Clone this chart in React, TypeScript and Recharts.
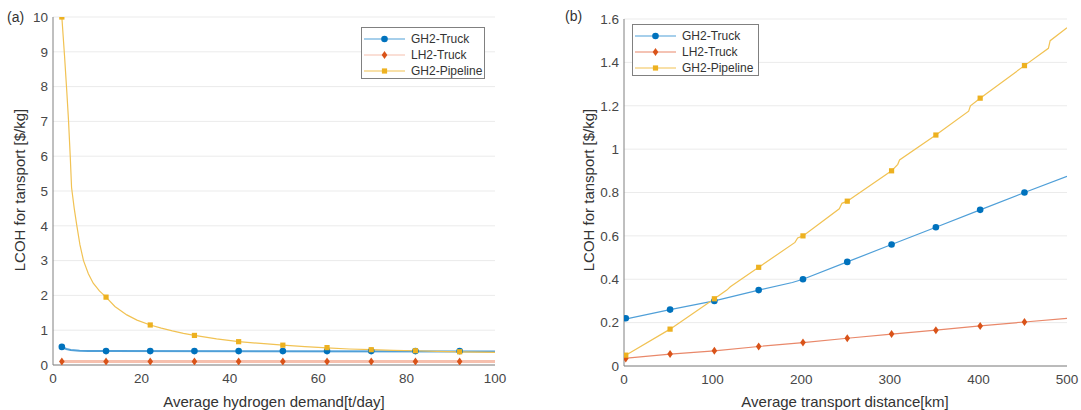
import React from "react";
import { CartesianGrid, ComposedChart, Line, Scatter, XAxis, YAxis } from "recharts";

// ---- (a) average hydrogen demand [t/day]
const demandMarkX = [2, 12, 22, 32, 42, 52, 62, 72, 82, 92];
const gh2TruckDemandMarks = [0.52, 0.4, 0.4, 0.4, 0.4, 0.4, 0.4, 0.4, 0.4, 0.4];
const lh2TruckDemandMarks = [0.1, 0.1, 0.1, 0.1, 0.1, 0.1, 0.1, 0.1, 0.1, 0.1];
const pipelineDemandMarks = [10, 1.95, 1.15, 0.85, 0.67, 0.57, 0.5, 0.44, 0.41, 0.38];

const pipelineDemandLineX = [2, 2.6, 3.1, 3.5, 3.9, 4.2, 4.8, 5.4, 6.1, 6.9, 8, 9.1, 10.5, 12, 14, 16.7, 19, 22, 24.5, 27, 29.5, 32, 37, 42, 47, 52, 57, 62, 67, 72, 77, 82, 87, 92, 100];
const pipelineDemandLineY = [10, 8.9, 7.9, 7.05, 6.0, 5.1, 4.5, 4.0, 3.45, 3.0, 2.62, 2.35, 2.13, 1.95, 1.68, 1.44, 1.29, 1.15, 1.06, 0.98, 0.91, 0.85, 0.75, 0.67, 0.62, 0.57, 0.53, 0.49, 0.46, 0.44, 0.42, 0.41, 0.39, 0.38, 0.36];
const gh2TruckDemandLineX = [2, 3, 4, 6, 8, 12, 100];
const gh2TruckDemandLineY = [0.52, 0.46, 0.43, 0.41, 0.4, 0.4, 0.39];
const lh2TruckDemandLineX = [1.6, 100];
const lh2TruckDemandLineY = [0.1, 0.1];

// ---- (b) average transport distance [km]
const distanceMarkX = [2, 52, 102, 152, 202, 252, 302, 352, 402, 452];
const gh2TruckDistanceMarks = [0.22, 0.26, 0.3, 0.35, 0.4, 0.48, 0.56, 0.64, 0.72, 0.8];
const lh2TruckDistanceMarks = [0.035, 0.055, 0.07, 0.09, 0.108, 0.128, 0.147, 0.165, 0.185, 0.203];
const pipelineDistanceMarks = [0.05, 0.17, 0.31, 0.455, 0.6, 0.76, 0.9, 1.065, 1.235, 1.385];

const gh2TruckDistanceLineX = [0, 52, 102, 152, 190, 202, 252, 302, 352, 402, 452, 500];
const gh2TruckDistanceLineY = [0.215, 0.26, 0.3, 0.35, 0.385, 0.4, 0.48, 0.56, 0.64, 0.72, 0.8, 0.875];
const lh2TruckDistanceLineX = [0, 52, 102, 152, 202, 252, 302, 352, 402, 452, 500];
const lh2TruckDistanceLineY = [0.035, 0.055, 0.07, 0.09, 0.108, 0.128, 0.147, 0.165, 0.185, 0.203, 0.22];
const pipelineDistanceLineX = [2, 52, 102, 116, 120, 152, 193, 196, 202, 243, 246, 252, 302, 309, 311, 352, 389, 391, 402, 452, 479, 481, 500];
const pipelineDistanceLineY = [0.05, 0.17, 0.31, 0.35, 0.365, 0.455, 0.57, 0.59, 0.6, 0.725, 0.75, 0.76, 0.9, 0.93, 0.95, 1.065, 1.175, 1.2, 1.235, 1.385, 1.465, 1.5, 1.56];

const demandTicks = [0, 20, 40, 60, 80, 100];
const demandCostTicks = [0, 1, 2, 3, 4, 5, 6, 7, 8, 9, 10];
const distanceTicks = [0, 100, 200, 300, 400, 500];
const distanceCostTicks = [0, 0.2, 0.4, 0.6, 0.8, 1, 1.2, 1.4, 1.6];

const seriesNames = ["GH2-Truck", "LH2-Truck", "GH2-Pipeline"];

const zip = (xs: number[], ys: number[]) => xs.map((x, i) => ({ x, y: ys[i] }));

const FONT = "'Liberation Sans', Arial, Helvetica, sans-serif";
const BOX = "#808080";
const TICK_TEXT = "#474747";

type Kind = "circle" | "diamond" | "square";
const markerColor = ["#0072BD", "#D95319", "#EDB120"];
const kinds: Kind[] = ["circle", "diamond", "square"];

const drawMarker = (kind: Kind, cx: number, cy: number, color: string, key?: string) => {
  if (kind === "circle") return <circle key={key} cx={cx} cy={cy} r={3.3} fill={color} />;
  if (kind === "diamond")
    return (
      <polygon
        key={key}
        points={`${cx},${cy - 4} ${cx + 2.8},${cy} ${cx},${cy + 4} ${cx - 2.8},${cy}`}
        fill={color}
      />
    );
  return <rect key={key} x={cx - 2.6} y={cy - 2.6} width={5.2} height={5.2} fill={color} />;
};

type LineStyle = { color: string; width: number };

type PanelProps = {
  width: number;
  margin: { top: number; right: number; left: number; bottom: number };
  xHeight: number;
  xDomain: [number, number];
  xTicks: number[];
  yDomain: [number, number];
  yTicks: number[];
  lines: { x: number; y: number }[][];
  marks: { x: number; y: number }[][];
  lineStyles: LineStyle[];
};

const Panel: React.FC<PanelProps> = (p) => {
  const tickStyle = { fill: TICK_TEXT, fontSize: 13.5, fontFamily: FONT };
  return (
    <ComposedChart width={p.width} height={410} margin={p.margin}>
      <CartesianGrid vertical={false} stroke="#ebebeb" xAxisId="x" yAxisId="y" />
      <XAxis
        xAxisId="x"
        dataKey="x"
        type="number"
        domain={p.xDomain}
        ticks={p.xTicks}
        allowDataOverflow
        height={p.xHeight}
        tickLine={false}
        tickSize={0}
        tickMargin={8}
        stroke={BOX}
        tick={tickStyle}
        interval={0}
      />
      <XAxis xAxisId="xin" type="number" domain={p.xDomain} ticks={p.xTicks} allowDataOverflow orientation="bottom" mirror height={0} tick={false} tickSize={4} axisLine={false} stroke={BOX} />
      <XAxis xAxisId="xtop" type="number" domain={p.xDomain} ticks={p.xTicks} allowDataOverflow orientation="top" mirror height={0} tick={false} tickSize={4} stroke={BOX} />
      <YAxis
        yAxisId="y"
        dataKey="y"
        type="number"
        domain={p.yDomain}
        ticks={p.yTicks}
        allowDataOverflow
        width={40}
        tickLine={false}
        tickSize={0}
        tickMargin={5}
        stroke={BOX}
        tick={tickStyle}
        interval={0}
      />
      <YAxis yAxisId="yin" type="number" domain={p.yDomain} ticks={p.yTicks} allowDataOverflow orientation="left" mirror width={0} tick={false} tickSize={4} axisLine={false} stroke={BOX} />
      <YAxis yAxisId="yright" type="number" domain={p.yDomain} ticks={p.yTicks} allowDataOverflow orientation="right" mirror width={0} tick={false} tickSize={4} stroke={BOX} />
      {p.lines.map((data, i) => (
        <Line
          key={"l" + i}
          xAxisId="x"
          yAxisId="y"
          data={data}
          dataKey="y"
          type="linear"
          stroke={p.lineStyles[i].color}
          strokeWidth={p.lineStyles[i].width}
          dot={false}
          activeDot={false}
          isAnimationActive={false}
        />
      ))}
      {p.marks.map((data, i) => (
        <Scatter
          key={"m" + i}
          xAxisId="x"
          yAxisId="y"
          data={data}
          dataKey="y"
          isAnimationActive={false}
          shape={(s: any) => drawMarker(kinds[i], s.cx, s.cy, markerColor[i])}
        />
      ))}
    </ComposedChart>
  );
};

const LegendBox: React.FC<{ left: number; top: number; width: number; lineColors: string[] }> = ({ left, top, width, lineColors }) => (
  <div
    style={{
      position: "absolute",
      left,
      top,
      width,
      height: 52,
      border: `1px solid ${BOX}`,
      background: "#fff",
      boxSizing: "border-box",
      padding: "3px 0 0 2px",
      fontFamily: FONT,
      fontSize: 12,
      color: "#333",
    }}
  >
    {seriesNames.map((name, i) => (
      <div key={name} style={{ display: "flex", alignItems: "center", height: 16 }}>
        <svg width={44} height={10} style={{ marginRight: 3 }}>
          <line x1={0} y1={5} x2={41} y2={5} stroke={lineColors[i]} strokeWidth={1.2} />
          {drawMarker(kinds[i], 20.5, 5, markerColor[i])}
        </svg>
        <span>{name}</span>
      </div>
    ))}
  </div>
);

const textStyle: React.CSSProperties = {
  position: "absolute",
  fontFamily: FONT,
  color: "#333",
  whiteSpace: "nowrap",
};

const YTitle: React.FC<{ cx: number; cy: number }> = ({ cx, cy }) => (
  <div
    style={{
      ...textStyle,
      fontSize: 15,
      left: cx,
      top: cy,
      transform: "translate(-50%, -50%) rotate(-90deg)",
    }}
  >
    LCOH for tansport [$/kg]
  </div>
);

const XTitle: React.FC<{ cx: number; cy: number; text: string }> = ({ cx, cy, text }) => (
  <div style={{ ...textStyle, fontSize: 15, left: cx, top: cy, transform: "translate(-50%, -50%)" }}>{text}</div>
);

const App: React.FC = () => {
  const demandLineColors = ["#4f9fd8", "#f6c0ae", "#f1c253"];
  const distanceLineColors = ["#4f9fd8", "#e9886a", "#f1c253"];
  return (
    <div style={{ position: "absolute", left: 0, top: 0, width: 1081, height: 410, background: "#fff", overflow: "hidden" }}>
      <div style={{ position: "absolute", left: 0, top: 0 }}>
        <Panel
          width={540}
          margin={{ top: 17, right: 45, left: 13, bottom: 0 }}
          xHeight={45}
          xDomain={[0, 100]}
          xTicks={demandTicks}
          yDomain={[0, 10]}
          yTicks={demandCostTicks}
          lines={[
            zip(gh2TruckDemandLineX, gh2TruckDemandLineY),
            zip(lh2TruckDemandLineX, lh2TruckDemandLineY),
            zip(pipelineDemandLineX, pipelineDemandLineY),
          ]}
          marks={[
            zip(demandMarkX, gh2TruckDemandMarks),
            zip(demandMarkX, lh2TruckDemandMarks),
            zip(demandMarkX, pipelineDemandMarks),
          ]}
          lineStyles={[
            { color: demandLineColors[0], width: 2 },
            { color: demandLineColors[1], width: 3 },
            { color: demandLineColors[2], width: 1.2 },
          ]}
        />
      </div>
      <div style={{ position: "absolute", left: 540, top: 0 }}>
        <Panel
          width={541}
          margin={{ top: 19, right: 14, left: 44, bottom: 0 }}
          xHeight={44}
          xDomain={[0, 500]}
          xTicks={distanceTicks}
          yDomain={[0, 1.6]}
          yTicks={distanceCostTicks}
          lines={[
            zip(gh2TruckDistanceLineX, gh2TruckDistanceLineY),
            zip(lh2TruckDistanceLineX, lh2TruckDistanceLineY),
            zip(pipelineDistanceLineX, pipelineDistanceLineY),
          ]}
          marks={[
            zip(distanceMarkX, gh2TruckDistanceMarks),
            zip(distanceMarkX, lh2TruckDistanceMarks),
            zip(distanceMarkX, pipelineDistanceMarks),
          ]}
          lineStyles={[
            { color: distanceLineColors[0], width: 1.2 },
            { color: distanceLineColors[1], width: 1.2 },
            { color: distanceLineColors[2], width: 1.2 },
          ]}
        />
      </div>

      <LegendBox left={361} top={27} width={124} lineColors={demandLineColors} />
      <LegendBox left={632} top={24} width={127} lineColors={distanceLineColors} />

      <div style={{ ...textStyle, fontSize: 14, left: 7, top: 9 }}>(a)</div>
      <div style={{ ...textStyle, fontSize: 14, left: 565, top: 8 }}>(b)</div>

      <YTitle cx={19} cy={190} />
      <YTitle cx={588} cy={190} />
      <XTitle cx={274} cy={401} text="Average hydrogen demand[t/day]" />
      <XTitle cx={845} cy={401} text="Average transport distance[km]" />
    </div>
  );
};

export default App;
